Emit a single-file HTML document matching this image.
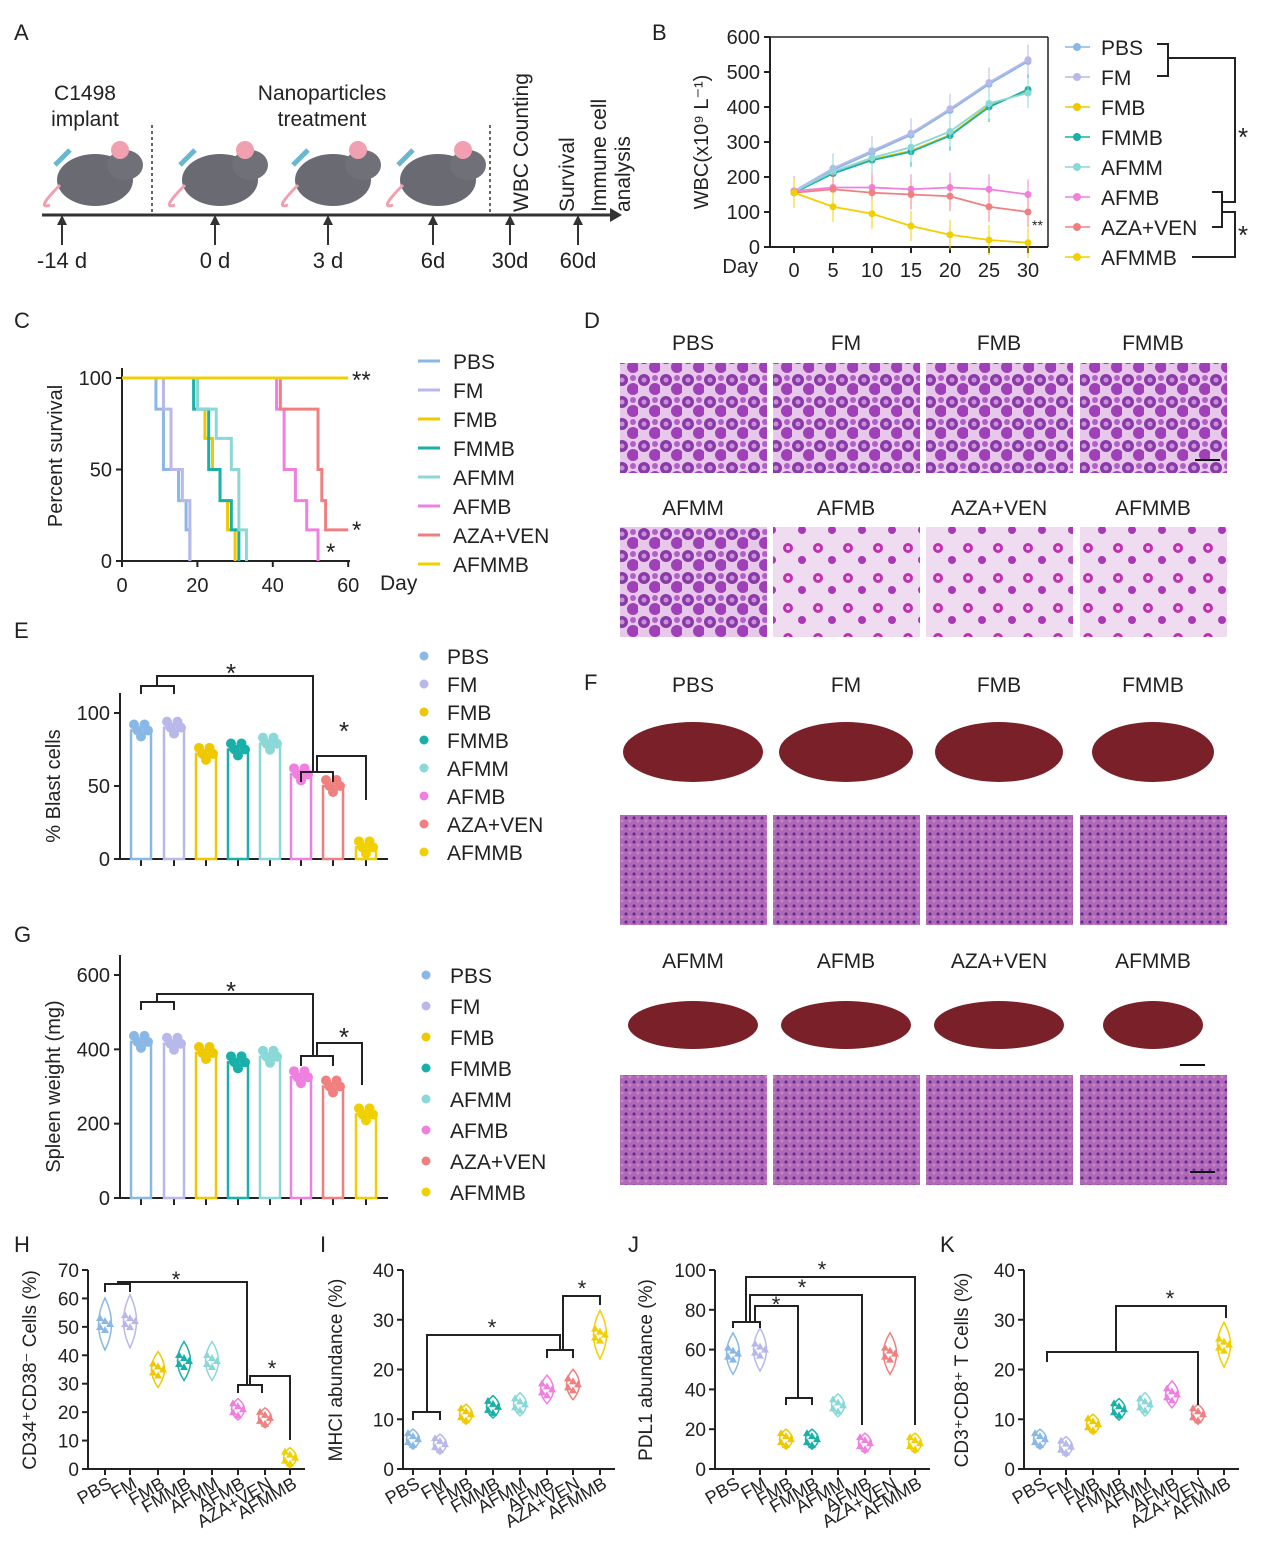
<!DOCTYPE html>
<html><head><meta charset="utf-8"><style>
html,body{margin:0;padding:0;background:#fff}
svg{display:block;font-family:"Liberation Sans",Arial,sans-serif}
</style></head><body>
<svg id="s" width="1271" height="1563" viewBox="0 0 1271 1563" xmlns="http://www.w3.org/2000/svg">
<defs>
<pattern id="cells" width="22" height="22" patternUnits="userSpaceOnUse">
<rect width="22" height="22" fill="#e8c8ea"/>
<circle cx="6" cy="6" r="6" fill="#8a3aa8"/><circle cx="17" cy="15" r="6" fill="#a040b8"/><circle cx="6" cy="6" r="2.5" fill="#c890d8"/><circle cx="17" cy="4" r="3" fill="#b060c8"/>
</pattern>
<pattern id="cells2" width="30" height="30" patternUnits="userSpaceOnUse">
<rect width="30" height="30" fill="#f0dcf0"/>
<circle cx="8" cy="8" r="5" fill="#c030b0"/><circle cx="22" cy="20" r="4" fill="#a838b8"/><circle cx="8" cy="8" r="2" fill="#f0c0f0"/>
</pattern>
<pattern id="hist" width="8" height="8" patternUnits="userSpaceOnUse">
<rect width="8" height="8" fill="#b068b8"/><circle cx="2" cy="2" r="1.5" fill="#5a2a90"/><circle cx="6" cy="5" r="1.3" fill="#d08ab8"/>
</pattern>
</defs>
<rect width="1271" height="1563" fill="#fff"/>
</svg>
<script>
const S=document.getElementById('s');const NS='http://www.w3.org/2000/svg';
function el(t,a,txt){const e=document.createElementNS(NS,t);for(const k in a)e.setAttribute(k,a[k]);if(txt!==undefined)e.textContent=txt;S.appendChild(e);return e;}
function T(x,y,s,size,anchor,extra){return el('text',Object.assign({x:x,y:y,'font-size':size||20,'text-anchor':anchor||'start',fill:'#222'},extra||{}),s);}
function L(x1,y1,x2,y2,c,w,d){return el('line',{x1,y1,x2,y2,stroke:c||'#222','stroke-width':w||2,'stroke-dasharray':d||''});}
const C=['#8ab8e6','#b8b8ea','#f0c800','#18b0a8','#8ad8d8','#f080e0','#f08080','#f0d000'];
const N=['PBS','FM','FMB','FMMB','AFMM','AFMB','AZA+VEN','AFMMB'];
// panel letters
[['A',14,40],['B',652,40],['C',14,328],['D',584,328],['E',14,638],['F',584,690],['G',14,942],['H',14,1252],['I',320,1252],['J',628,1252],['K',940,1252]].forEach(p=>T(p[1],p[2],p[0],22));
// Panel A
L(42,215,610,215,'#333',3);el('polygon',{points:'610,208 622,215 610,222',fill:'#333'});
[[62,'-14 d'],[215,'0 d'],[328,'3 d'],[433,'6d'],[510,'30d'],[578,'60d']].forEach(p=>{L(p[0],245,p[0],220,'#333',2);el('polygon',{points:`${p[0]-5},225 ${p[0]+5},225 ${p[0]},215`,fill:'#333'});T(p[0],268,p[1],22,'middle');});
L(152,125,152,212,'#333',1.5,'3,3');L(490,125,490,212,'#333',1.5,'3,3');
T(85,100,'C1498',21,'middle');T(85,126,'implant',21,'middle');
T(322,100,'Nanoparticles',21,'middle');T(322,126,'treatment',21,'middle');
[[528,'WBC Counting'],[574,'Survival'],[606,'Immune cell'],[630,'analysis']].forEach(p=>T(p[0],p[1]==='WBC Counting'?212:212,p[1],21,'start',{transform:`rotate(-90 ${p[0]} 212)`}));
[90,215,328,433].forEach(x=>{el('ellipse',{cx:x+5,cy:180,rx:38,ry:26,fill:'#6a6a72'});el('ellipse',{cx:x+35,cy:165,rx:18,ry:15,fill:'#707078'});el('circle',{cx:x+30,cy:150,r:9,fill:'#f0a0b0'});el('path',{d:`M${x-30},185 Q${x-55},210 ${x-40},205`,stroke:'#f0a0b0','stroke-width':3,fill:'none'});el('line',{x1:x-35,y1:165,x2:x-20,y2:150,stroke:'#6ab8d0','stroke-width':5});});
// Panel B
const bx=d=>794+d*7.8,by=v=>247-v*0.35;
L(770,37,770,247);L(770,247,1048,247);L(1048,37,1048,247,'#222',1.5);L(770,37,1048,37,'#222',1.5);
[0,100,200,300,400,500,600].forEach(v=>{L(764,by(v),770,by(v));T(760,by(v)+7,v,20,'end');});
[0,5,10,15,20,25,30].forEach(d=>{L(bx(d),247,bx(d),253);T(bx(d),277,d,20,'middle');});
T(758,273,'Day',20,'end');
T(708,142,'WBC(x10⁹ L⁻¹)',20,'middle',{transform:'rotate(-90 708 142)'});
const BD=[[155,220,270,320,390,465,530],[160,225,275,325,395,470,535],[155,210,250,275,320,405,445],[155,210,248,272,318,400,450],[158,215,255,285,330,410,440],[160,170,170,165,170,165,150],[155,165,155,150,145,115,100],[155,115,95,60,35,20,12]];
BD.forEach((a,i)=>{let p=a.map((v,j)=>bx(j*5)+','+by(v)).join(' ');el('polyline',{points:p,fill:'none',stroke:C[i],'stroke-width':1.8});a.forEach((v,j)=>{L(bx(j*5),by(v)-15,bx(j*5),by(v)+15,C[i],1);el('circle',{cx:bx(j*5),cy:by(v),r:3.5,fill:C[i]});});});
T(1032,230,'**',14,'start');
N.forEach((n,i)=>{let y=47+i*30;L(1065,y,1090,y,C[i],1.5);el('circle',{cx:1077,cy:y,r:4,fill:C[i]});T(1101,y+8,n,21);});
el('polyline',{points:'1157,44 1168,44 1168,76 1157,76',fill:'none',stroke:'#222','stroke-width':2});
el('polyline',{points:'1168,58 1235,58 1235,202 1222,202',fill:'none',stroke:'#222','stroke-width':2});
el('polyline',{points:'1212,192 1222,192 1222,227 1212,227',fill:'none',stroke:'#222','stroke-width':2});
el('polyline',{points:'1222,212 1235,212 1235,257 1192,257',fill:'none',stroke:'#222','stroke-width':2});
T(1238,146,'*',26);T(1238,244,'*',26);
// Panel C
const cx=d=>122+d*3.77,cy=v=>561-v*1.83;
L(122,368,122,561);L(122,561,350,561);
[0,50,100].forEach(v=>{L(116,cy(v),122,cy(v));T(112,cy(v)+7,v,20,'end');});
[0,20,40,60].forEach(d=>{L(cx(d),561,cx(d),567);T(cx(d),592,d,20,'middle');});T(380,590,'Day',21);
T(62,456,'Percent survival',20,'middle',{transform:'rotate(-90 62 456)'});
function km(steps,c){let p=[];let y=100;p.push(cx(0)+','+cy(100));steps.forEach(s=>{p.push(cx(s[0])+','+cy(y));y=s[1];p.push(cx(s[0])+','+cy(y));});p.push(cx(steps.length?steps[steps.length-1][0]:60)+','+cy(y));el('polyline',{points:p.join(' '),fill:'none',stroke:c,'stroke-width':3});}
km([[9,83],[11,50],[15,33],[17,17],[18,0]],C[0]);km([[11,83],[13,50],[16,33],[18,0]],C[1]);
km([[20,83],[22,67],[24,50],[26,33],[28,17],[30,0]],C[2]);km([[19,83],[23,50],[26,33],[29,17],[31,0]],C[3]);km([[20,83],[25,67],[29,50],[31,17],[33,0]],C[4]);
km([[41,83],[43,50],[46,33],[49,17],[52,0]],C[5]);km([[42,83],[52,50],[53,33],[54,17],[60,17]],C[6]);
L(cx(0),cy(100),cx(60),cy(100),C[7],3);
T(352,388,'**',24);T(352,538,'*',24);T(326,560,'*',24);
N.forEach((n,i)=>{let y=361+i*29;L(418,y,440,y,C[i],3);T(453,y+8,n,21);});
// Panel D
const gx=[620,773,926,1080];
['PBS','FM','FMB','FMMB'].forEach((n,i)=>{T(gx[i]+73,350,n,21,'middle');el('rect',{x:gx[i],y:363,width:147,height:110,fill:'url(#cells)'});});
['AFMM','AFMB','AZA+VEN','AFMMB'].forEach((n,i)=>{T(gx[i]+73,515,n,21,'middle');el('rect',{x:gx[i],y:527,width:147,height:110,fill:i==0?'url(#cells)':'url(#cells2)'});});
L(1195,460,1220,460,'#111',2);
// Panel F
['PBS','FM','FMB','FMMB'].forEach((n,i)=>{T(gx[i]+73,692,n,21,'middle');el('ellipse',{cx:gx[i]+73,cy:752,rx:70-i*3,ry:30,fill:'#7a2028'});el('rect',{x:gx[i],y:815,width:147,height:110,fill:'url(#hist)'});});
['AFMM','AFMB','AZA+VEN','AFMMB'].forEach((n,i)=>{T(gx[i]+73,968,n,21,'middle');el('ellipse',{cx:gx[i]+73,cy:1025,rx:i==3?50:65,ry:24,fill:'#7a2028'});el('rect',{x:gx[i],y:1075,width:147,height:110,fill:'url(#hist)'});});
L(1180,1065,1205,1065,'#111',2);L(1190,1172,1215,1172,'#111',2);
// bar panels
const bxs=[141,174,206,238,270,301,333,366];
function bars(top,bot,max,ticks,vals,lab,sigs){const sy=v=>bot-v*(bot-top)/max;L(120,top-20,120,bot);L(120,bot,388,bot);
ticks.forEach(v=>{L(114,sy(v),120,sy(v));T(110,sy(v)+7,v,20,'end');});bxs.forEach(x=>L(x,bot,x,bot+7));
T(60,(top+bot)/2,lab,20,'middle',{transform:`rotate(-90 60 ${(top+bot)/2})`});
vals.forEach((v,i)=>{el('rect',{x:bxs[i]-10,y:sy(v),width:20,height:bot-sy(v),fill:'none',stroke:C[i],'stroke-width':2.5});L(bxs[i],sy(v)-8,bxs[i],sy(v)+8,C[i],1.5);
for(let k=0;k<5;k++){el('circle',{cx:bxs[i]-7+k*3.5,cy:sy(v)+(k%3-1)*6,r:5,fill:C[i]});}});
sigs();}
bars(713,859,100,[0,50,100],[88,90,72,75,79,58,50,8],'% Blast cells',()=>{
el('polyline',{points:'141,694 141,686 174,686 174,694',fill:'none',stroke:'#222','stroke-width':2});el('polyline',{points:'157,686 157,676 313,676 313,772',fill:'none',stroke:'#222','stroke-width':2});
el('polyline',{points:'301,782 301,772 333,772 333,782',fill:'none',stroke:'#222','stroke-width':2});el('polyline',{points:'317,772 317,756 366,756 366,800',fill:'none',stroke:'#222','stroke-width':2});
T(231,682,'*',26,'middle');T(344,740,'*',26,'middle');});
N.forEach((n,i)=>{let y=656+i*28;el('circle',{cx:424,cy:y,r:4.5,fill:C[i]});T(447,y+8,n,21);});
bars(975,1198,600,[0,200,400,600],[420,415,390,365,380,325,300,225],'Spleen weight (mg)',()=>{
el('polyline',{points:'141,1010 141,1002 174,1002 174,1010',fill:'none',stroke:'#222','stroke-width':2});el('polyline',{points:'157,1002 157,994 313,994 313,1056',fill:'none',stroke:'#222','stroke-width':2});
el('polyline',{points:'301,1066 301,1056 333,1056 333,1066',fill:'none',stroke:'#222','stroke-width':2});el('polyline',{points:'317,1056 317,1043 362,1043 362,1085',fill:'none',stroke:'#222','stroke-width':2});
T(231,1000,'*',26,'middle');T(344,1046,'*',26,'middle');});
N.forEach((n,i)=>{let y=975+i*31;el('circle',{cx:426,cy:y,r:4.5,fill:C[i]});T(450,y+8,n,21);});
// violins
function vio(ax,xs,max,ticks,vals,lab,labx,sig){const top=1270,bot=1469,sy=v=>bot-v*(bot-top)/max;L(ax,top,ax,bot);L(ax,bot,xs[7]+15,bot);
ticks.forEach(v=>{L(ax-6,sy(v),ax,sy(v));T(ax-9,sy(v)+7,v,19,'end');});xs.forEach(x=>L(x,bot,x,bot+6));
T(labx,1370,lab,19,'middle',{transform:`rotate(-90 ${labx} 1370)`});
vals.forEach((v,i)=>{let x=xs[i],h=Math.max(10,v*(bot-top)/max*0.18);let y=sy(v);
el('path',{d:`M${x},${y-h} Q${x+13},${y} ${x},${y+h} Q${x-13},${y} ${x},${y-h}Z`,fill:'none',stroke:C[i],'stroke-width':1.5});
for(let k=0;k<5;k++)el('polygon',{points:`${x-5+(k%3)*5},${y-4+(k-2)*3} ${x-9+(k%3)*5},${y+3+(k-2)*3} ${x-1+(k%3)*5},${y+3+(k-2)*3}`,fill:C[i]});});
N.forEach((n,i)=>T(xs[i]+8,bot+18,n,18,'end',{transform:`rotate(-30 ${xs[i]+8} ${bot+18})`}));sig(sy);}
vio(88,[105,130,158,184,212,238,265,290],70,[0,10,20,30,40,50,60,70],[51,52,35,38,38,21,18,4],'CD34⁺CD38⁻ Cells (%)',36,sy=>{
el('polyline',{points:'105,1598 105,1594',fill:'none'});
el('polyline',{points:'105,1292 105,1284 130,1284 130,1292',fill:'none',stroke:'#222','stroke-width':2});el('polyline',{points:'118,1284 118,1282 247,1282 247,1385',fill:'none',stroke:'#222','stroke-width':2});
el('polyline',{points:'238,1393 238,1385 262,1385 262,1393',fill:'none',stroke:'#222','stroke-width':2});el('polyline',{points:'250,1385 250,1376 290,1376 290,1440',fill:'none',stroke:'#222','stroke-width':2});
T(176,1287,'*',22,'middle');T(272,1376,'*',22,'middle');});
vio(403,[413,440,466,493,520,547,573,600],40,[0,10,20,30,40],[6,5,11,12.5,13,16,17,27],'MHCI abundance (%)',342,sy=>{
el('polyline',{points:'413,1420 413,1412 440,1412 440,1420',fill:'none',stroke:'#222','stroke-width':2});el('polyline',{points:'427,1412 427,1335 560,1335 560,1350',fill:'none',stroke:'#222','stroke-width':2});
el('polyline',{points:'547,1358 547,1350 573,1350 573,1358',fill:'none',stroke:'#222','stroke-width':2});el('polyline',{points:'563,1350 563,1296 600,1296 600,1305',fill:'none',stroke:'#222','stroke-width':2});
T(492,1335,'*',22,'middle');T(582,1296,'*',22,'middle');});
vio(715,[733,760,786,812,838,865,890,915],100,[0,20,40,60,80,100],[58,60,15,15,32,13,58,13],'PDL1 abundance (%)',652,sy=>{
el('polyline',{points:'733,1328 733,1322 760,1322 760,1328',fill:'none',stroke:'#222','stroke-width':2});
el('polyline',{points:'746,1322 746,1277 915,1277 915,1425',fill:'none',stroke:'#222','stroke-width':2});
el('polyline',{points:'750,1322 750,1295 862,1295 862,1425',fill:'none',stroke:'#222','stroke-width':2});
el('polyline',{points:'755,1322 755,1306 798,1306 798,1398',fill:'none',stroke:'#222','stroke-width':2});
el('polyline',{points:'786,1405 786,1398 812,1398 812,1405',fill:'none',stroke:'#222','stroke-width':2});
T(822,1277,'*',22,'middle');T(802,1295,'*',22,'middle');T(776,1312,'*',22,'middle');});
vio(1024,[1040,1066,1093,1119,1145,1172,1198,1224],40,[0,10,20,30,40],[6,4.5,9,12,13,15,11,25],'CD3⁺CD8⁺ T Cells (%)',968,sy=>{
el('polyline',{points:'1047,1362 1047,1352 1198,1352 1198,1405',fill:'none',stroke:'#222','stroke-width':2});el('polyline',{points:'1116,1352 1116,1306 1226,1306 1226,1318',fill:'none',stroke:'#222','stroke-width':2});
T(1170,1306,'*',22,'middle');});
</script>
</body></html>
